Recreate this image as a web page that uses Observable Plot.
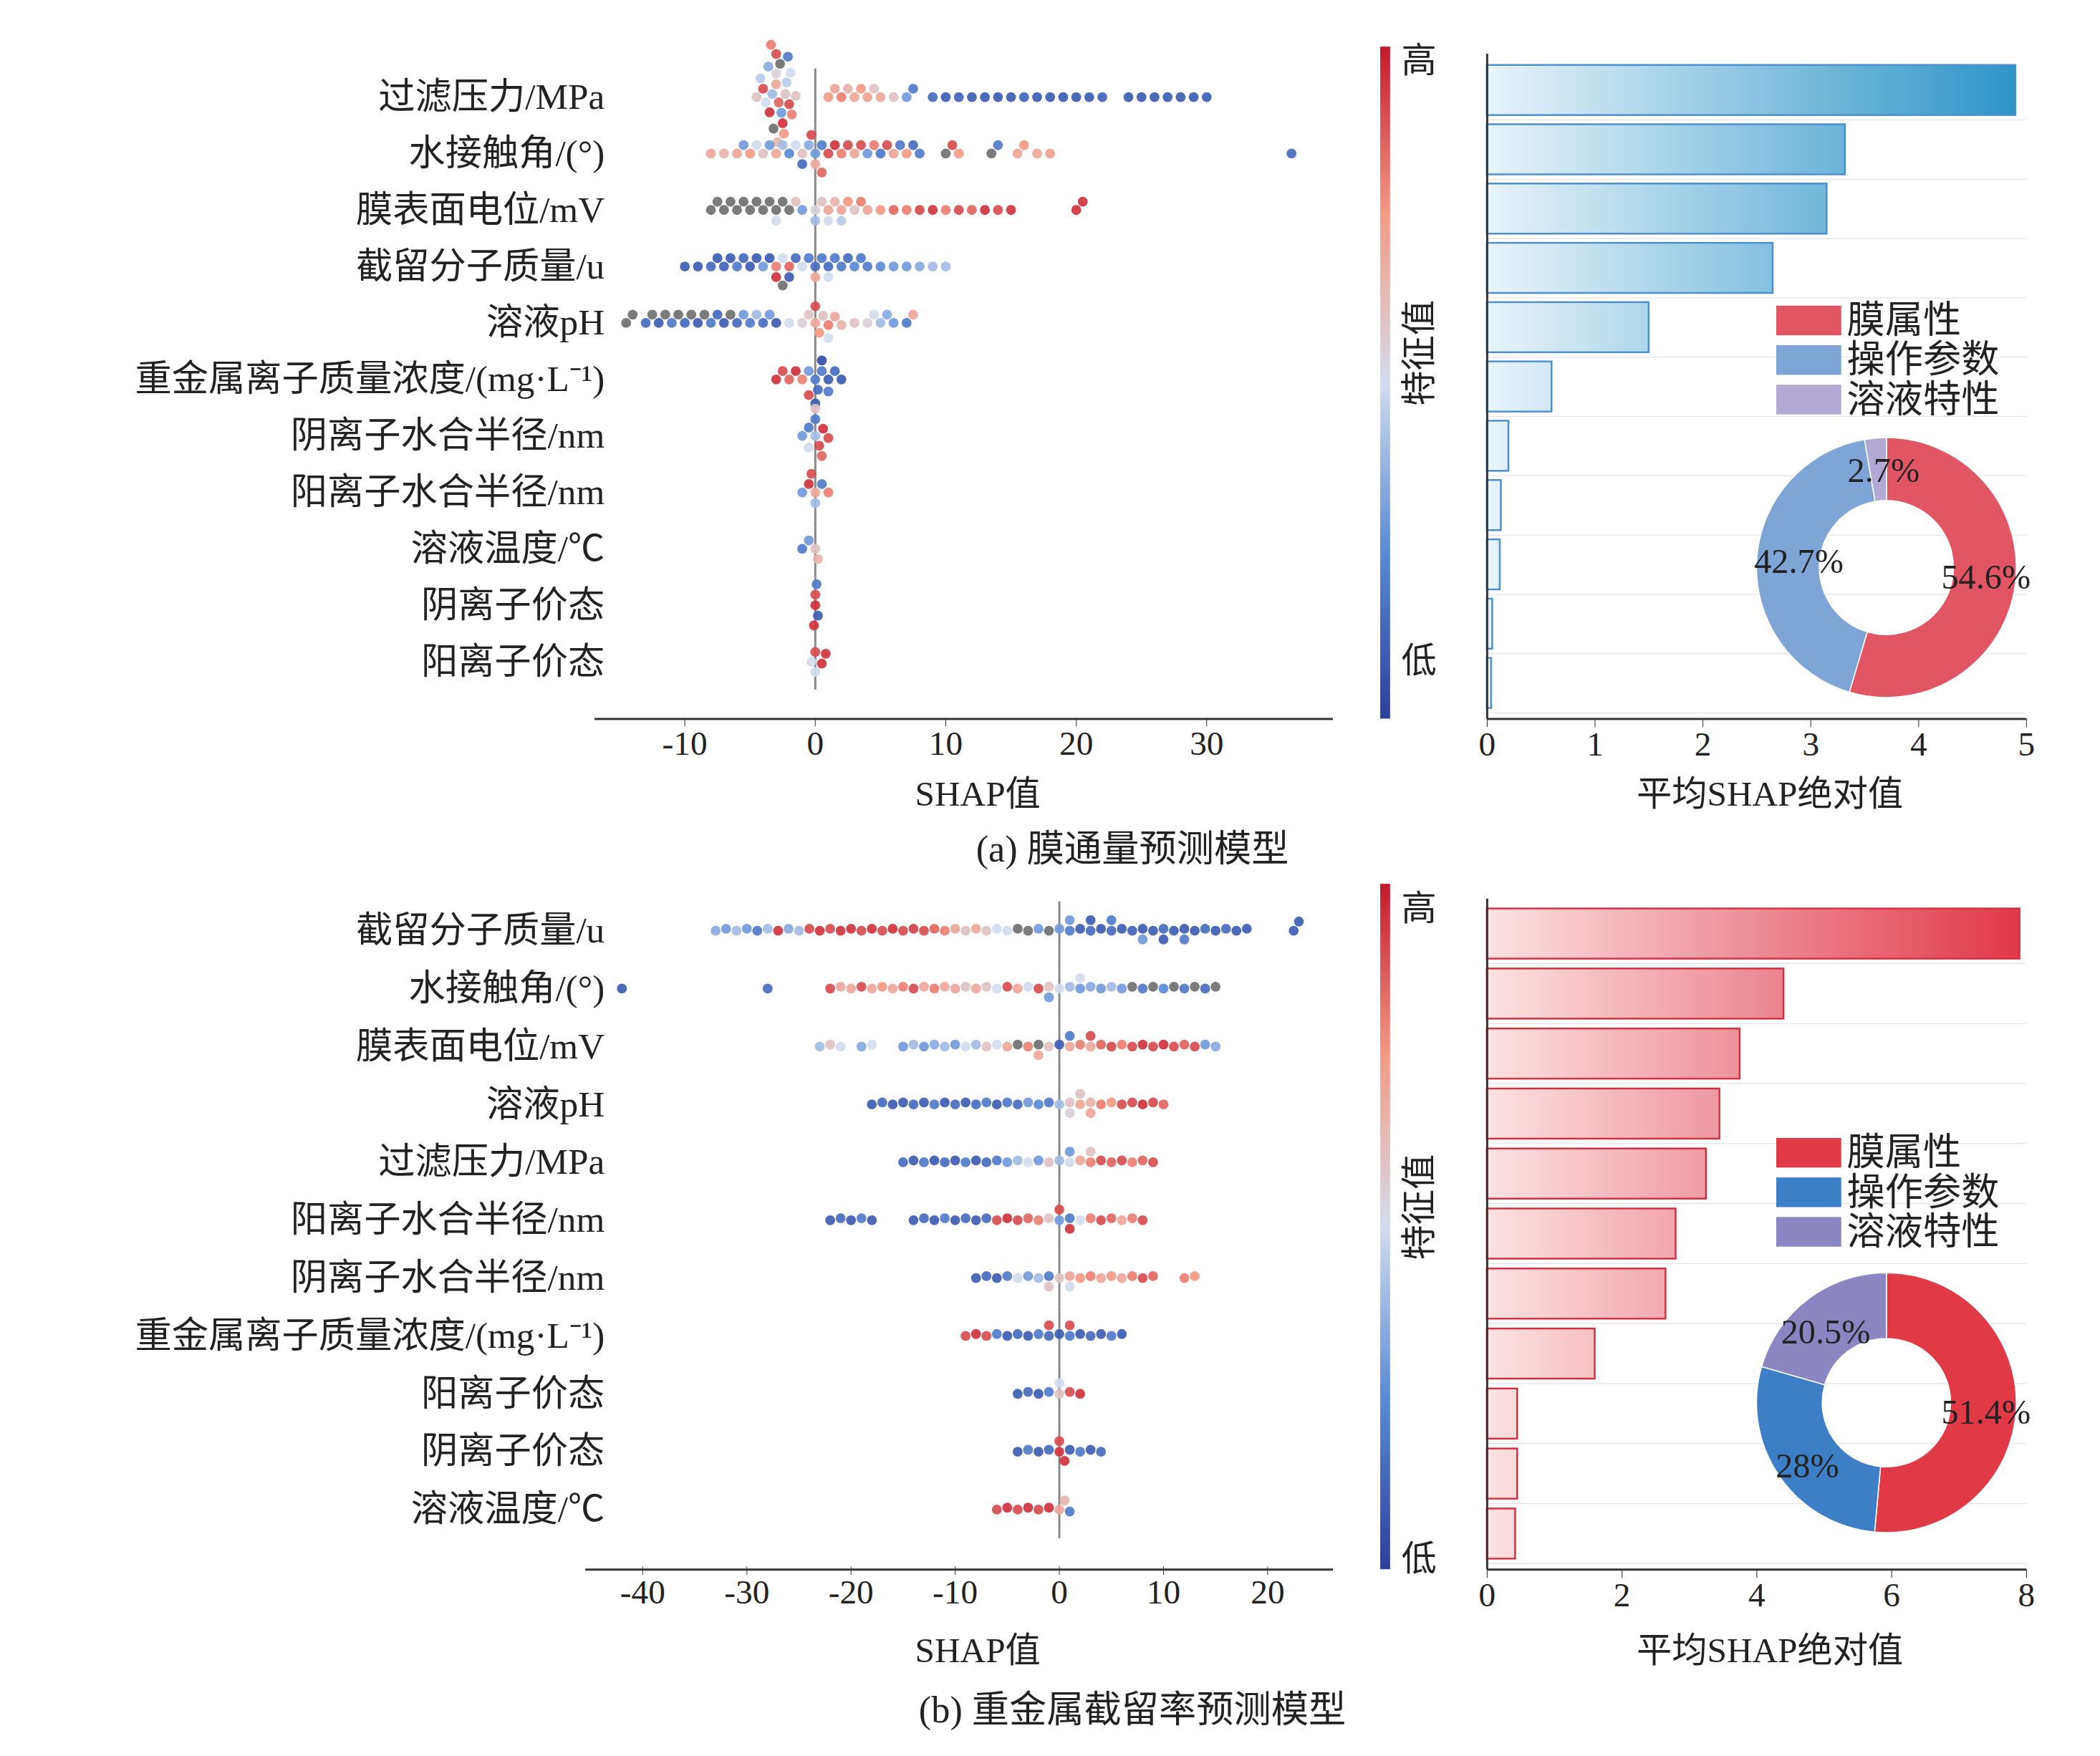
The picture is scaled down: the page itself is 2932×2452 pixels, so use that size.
<!DOCTYPE html>
<html><head><meta charset="utf-8">
<script src="https://cdn.jsdelivr.net/npm/d3@7"></script>
<script src="https://cdn.jsdelivr.net/npm/@observablehq/plot@0.6"></script>
<style>
body{margin:0;background:#fff;overflow:hidden;}
#root{position:relative;width:2932px;height:2452px;font-family:"Liberation Serif","Noto Sans CJK SC",serif;color:#222;transform:scale(0.9857);transform-origin:0 0;}
.abs{position:absolute;}
.t{position:absolute;white-space:nowrap;transform:translate(-50%,-50%);line-height:1;}
</style></head><body><div id="root"></div>
<script>
const featA=["过滤压力/MPa","水接触角/(°)","膜表面电位/mV","截留分子质量/u","溶液pH","重金属离子质量浓度/(mg·L⁻¹)","阴离子水合半径/nm","阳离子水合半径/nm","溶液温度/℃","阴离子价态","阳离子价态"];
const featB=["截留分子质量/u","水接触角/(°)","膜表面电位/mV","溶液pH","过滤压力/MPa","阳离子水合半径/nm","阴离子水合半径/nm","重金属离子质量浓度/(mg·L⁻¹)","阳离子价态","阴离子价态","溶液温度/℃"];
// "shap featureValue" (g = missing, grey)
const swarmA=[
"-4.5 .6,-4 .9,-3.8 .5,-3.5 .95,-3.3 .4,-3 .7,-3 .55,-2.8 .85,-2.6 .3,-2.5 .95,-2.3 .6,-2.2 .45,-2 .9,-1.8 .8,-1.5 .6,-3.2 g,-2.7 g,-3.6 .35,-2.4 .75,-1.9 .5,-4.2 .45,-3 .9,-2.1 .2,-2.9 .65,-3.4 .8,1 .75,1.5 .7,2 .8,2.5 .65,3 .7,3.5 .75,4 .72,4.5 .6,5 .7,6 .6,7 .3,7.5 .2,9 .15,10 .1,11 .12,12 .1,13 .1,14 .1,15 .1,16 .12,17 .1,18 .1,19 .1,20 .1,21 .1,22 .12,24 .1,25 .1,26 .1,27 .1,28 .1,29 .1,30 .1",
"-8 .7,-7 .65,-6 .7,-5.5 .3,-5 .75,-4.5 .5,-4 .6,-3.5 .3,-3 .7,-2.5 .4,-2 .25,-1.5 .5,-1 .6,-0.5 .35,0 .3,0 .7,.5 .2,1 .9,1.5 .95,2 .8,2.5 .9,3 .7,3.5 .9,4 .3,4.5 .8,5 .2,5.5 .9,6 .7,6.5 .2,7 .75,7.5 .15,8 .2,10 g,10.5 .9,11 .75,13.5 g,14 .2,15.5 .7,16 .75,17 .7,18 .72,36.5 .15,-1 .15,0.5 .85,-0.3 .9",
"-8 g,-7.5 g,-7 g,-6.5 g,-6 g,-5.5 g,-5 g,-4.5 g,-4 g,-3.5 g,-3 g,-2.5 g,-3 .5,-2 g,-1.5 .6,-1 .3,0 .55,.5 .6,1 .7,1.5 .65,2 .7,2.5 .75,3 .6,3.5 .8,4 .7,5 .75,6 .85,7 .8,8 .9,9 .95,10 .8,11 .9,12 .85,13 .95,14 .9,15 .95,20 .95,20.5 .95,0 .4,1 .5,2 .45",
"-10 .1,-9 .1,-8 .15,-7.5 .1,-7 .12,-6.5 .1,-6 .2,-5.5 .15,-5 .1,-4.5 .1,-4 .3,-3.5 .1,-3 .8,-3 .95,-2.5 .5,-2.5 g,-2 .85,-2 .1,-1.5 .15,-1 .5,-0.5 .2,0 .15,.5 .2,1 .15,1.5 .2,2 .2,2.5 .15,3 .25,3.5 .2,4 .2,5 .25,6 .3,7 .3,8 .35,9 .4,10 .4,0 .7,1 .5",
"-14.5 g,-14 g,-13 .15,-12.5 g,-12 .1,-11.5 g,-11 .2,-10.5 g,-10 .15,-9.5 g,-9 .1,-8.5 g,-8 .2,-7.5 .15,-7 .1,-6.5 g,-6 .15,-5.5 .3,-5 .2,-4.5 .4,-4 .15,-3.5 .3,-3 .1,-2 .5,-1 .55,-0.5 .6,0 .7,.3 .75,.6 .6,1 .8,1.5 .7,2 .65,3 .6,4 .55,4.5 .5,5 .4,5.5 .35,6 .3,7 .2,7.5 .7,0 .9,1 .5",
"-3 .95,-2.5 .9,-2 .85,-1.5 .95,-1 .8,-0.5 .3,0 .2,.2 .15,.5 .2,1 .1,1.5 .15,2 .1,-0.5 .9,.5 .05,1 .2,0 .1",
"-1 .3,-0.5 .2,0 .4,0.3 .9,0.6 .95,1 .9,-0.5 .5,0 .2,0.5 .85,0 .6",
"-1 .3,-0.5 .95,0 .7,0.5 .2,1 .8,0 .4,-0.3 .9",
"-1 .2,-0.5 .3,0 .6,0.2 .65",
"0 .95,0 .9,0.2 .1,-0.1 .95,0.1 .2",
"-0.3 .5,0 .9,0.5 .95,0.8 .95,0 .5"];
const swarmB=[
"-33 .35,-32 .3,-31 .4,-30 .3,-29 .2,-28 .4,-27 .95,-26 .35,-25 .4,-24 .9,-23 .95,-22 .9,-21 .95,-20 .95,-19 .9,-18 .95,-17 .9,-16 .95,-15 .9,-14 .92,-13 .9,-12 .85,-11 .8,-10 .7,-9 .6,-8 .7,-7 .6,-6 .5,-5 .5,-4 g,-3 g,-2 .3,-1 g,0 .3,1 .2,2 .1,3 .15,4 .1,5 .15,6 .1,7 .12,8 .1,9 .1,10 .15,11 .1,12 .1,13 .1,14 .15,15 .1,16 .15,17 .1,18 .1,22.5 .1,23 .1,1 .3,5 .2,8 .3,10 .1,12 .2,3 .1",
"-42 .1,-28 .15,-22 .9,-21 .7,-20 .7,-19 .9,-18 .7,-17 .75,-16 .7,-15 .8,-14 .9,-13 .7,-12 .8,-11 .7,-10 .7,-9 .6,-8 .7,-7 .6,-6 .5,-5 .9,-4 .7,-3 .5,-2 .9,-1 .6,0 .5,1 .4,2 .3,3 .35,4 .3,5 .4,6 .3,7 g,8 .2,9 g,10 .25,11 g,12 .2,13 g,14 .15,15 g,-1 .3,2 .5",
"-23 .4,-22 .6,-21 .5,-19 .35,-18 .5,-15 .3,-14 .4,-13 .3,-12 .35,-11 .4,-10 .3,-9 .5,-8 .4,-7 .6,-6 .5,-5 .7,-4 g,-3 .8,-2 g,-1 .6,0 .1,1 .7,2 .8,3 .7,4 .85,5 .9,6 .8,7 .9,8 .95,9 .9,10 .95,11 .9,12 .85,13 .9,14 .3,15 .35,-2 .7,1 .2,3 .9",
"-18 .1,-17 .15,-16 .1,-15 .1,-14 .15,-13 .1,-12 .2,-11 .1,-10 .15,-9 .1,-8 .15,-7 .2,-6 .1,-5 .2,-4 .15,-3 .3,-2 .25,-1 .2,0 .4,1 .6,2 .7,3 .65,4 .8,5 .75,6 .9,7 .9,8 .95,9 .9,10 .85,1 .55,2 .6,3 .7",
"-15 .15,-14 .1,-13 .2,-12 .1,-11 .15,-10 .1,-9 .2,-8 .1,-7 .15,-6 .2,-5 .3,-4 .4,-3 .5,-2 .3,-1 .6,0 .4,1 .5,2 .7,3 .8,4 .9,5 .85,6 .9,7 .8,8 .85,9 .9,1 .3,3 .6",
"-22 .1,-21 .15,-20 .1,-19 .2,-18 .1,-14 .1,-13 .15,-12 .1,-11 .2,-10 .1,-9 .15,-8 .1,-7 .15,-6 .9,-5 .95,-4 .9,-3 .85,-2 .8,-1 .6,0 .3,1 .2,2 .5,3 .8,4 .9,5 .85,6 .7,7 .8,8 .9,0 .9,1 .95",
"-8 .1,-7 .15,-6 .1,-5 .2,-4 .5,-3 .3,-2 .4,-1 .2,0 .6,1 .7,2 .75,3 .8,4 .7,5 .75,6 .7,7 .8,8 .9,9 .85,12 .8,13 .75,1 .5,-1 .6",
"-9 .9,-8 .95,-7 .9,-6 .2,-5 .1,-4 .15,-3 .1,-2 .2,-1 .15,0 .1,1 .2,2 .1,3 .15,4 .1,5 .2,6 .1,-1 .9,1 .9",
"-4 .1,-3 .15,-2 .1,-1 .2,0 .6,0 .5,1 .9,2 .95",
"-4 .1,-3 .2,-2 .1,-1 .15,0 .95,0 .9,0.5 .95,1 .1,2 .2,3 .1,4 .15",
"-6 .9,-5 .95,-4 .9,-3 .95,-2 .9,-1 .95,0 .7,0.5 .65,1 .2"];
const meanA=[4.9,3.32,3.15,2.65,1.5,0.6,0.2,0.13,0.12,0.05,0.04];
const meanB=[7.9,4.4,3.75,3.45,3.25,2.8,2.65,1.6,0.45,0.45,0.42];
const groups=["膜属性","操作参数","溶液特性"];
const shareA=[54.6,42.7,2.7], shareB=[51.4,28,20.5];
const labelsA=["54.6%","42.7%","2.7%"], labelsB=["51.4%","28%","20.5%"];
const ticksA=[-10,0,10,20,30], ticksB=[-40,-30,-20,-10,0,10,20];
const barTicksA=[0,1,2,3,4,5], barTicksB=[0,2,4,6,8];

const root=document.getElementById("root");
const FONT='"Liberation Serif","Noto Sans CJK SC",serif';
const fmt=d=>String(d);
const cmap=d3.scaleLinear().domain([0,.25,.5,.75,1]).range(["#2c3f9c","#5a8ad6","#d3dcec","#f49a85","#c4192b"]);
function parse(rows,feats){const out=[];rows.forEach((s,i)=>s.split(",").forEach(t=>{const [x,v]=t.trim().split(/\s+/);out.push({f:feats[i],x:+x,v:v==="g"?null:+v});}));return out;}
function place(el,left,top){el.style.position="absolute";el.style.left=left+"px";el.style.top=top+"px";root.appendChild(el);}
function text(str,x,y,size,rot){const d=document.createElement("div");d.className="t";d.textContent=str;d.style.left=x+"px";d.style.top=y+"px";d.style.fontSize=size+"px";if(rot)d.style.transform="translate(-50%,-50%) rotate(-90deg)";root.appendChild(d);}
function line(x,y,w,h,c){const d=document.createElement("div");d.className="abs";Object.assign(d.style,{left:x+"px",top:y+"px",width:w+"px",height:h+"px",background:c||"#333"});root.appendChild(d);}

function swarm(rows,feats,domain,ticks,top,mt,mb){
  const data=parse(rows,feats);
  const p=Plot.plot({width:1908,height:1200,marginLeft:842,marginRight:20,marginTop:mt,marginBottom:mb,
    style:{fontFamily:FONT,background:"transparent"},
    x:{domain,label:null},fy:{domain:feats,padding:0,label:null},
    marks:[
      Plot.ruleX([0],{stroke:"#888",strokeWidth:3}),
      Plot.dot(data,Plot.dodgeY("middle",{x:"x",fy:"f",r:7,padding:0,fill:d=>d.v==null?"#707070":cmap(d.v),fillOpacity:0.92})),
      Plot.axisFy({anchor:"left",tickSize:0,tickPadding:-14,fontSize:52,label:null}),
      Plot.axisX({ticks,tickFormat:fmt,tickSize:12,dy:40,fontSize:48,tickPadding:6,label:null,stroke:"#333"})
    ]});
  place(p,0,top);
}
swarm(swarmA,featA,[-16.9,39.7],ticksA,0,96,222);
swarm(swarmB,featB,[-44.6,26.3],ticksB,1230,43,247);
line(842,1017,1046,3); line(829,2222,1059,3);
text("SHAP值",1385,1124,50); text("SHAP值",1385,2338,50);

function bars(vals,dom,ticks,top,mt,id,c0,c1,stroke,share,labels,cols,cy,rIn,labPos){
  const ns="http://www.w3.org/2000/svg";
  const defs=(i,s,v,dim,ctx)=>{const g=ctx.document.createElementNS(ns,"defs");
    g.innerHTML=`<linearGradient id="${id}" gradientUnits="userSpaceOnUse" x1="${dim.marginLeft}" x2="${dim.width-dim.marginRight}" y1="0" y2="0"><stop offset="0" stop-color="${c0}"/><stop offset="1" stop-color="${c1}"/></linearGradient>`;return g;};
  const donut=(i,s,v,dim,ctx)=>{const g=ctx.document.createElementNS(ns,"g");
    const cx=2672-2000;const arcs=d3.pie().sort(null)(share);const arc=d3.arc().innerRadius(rIn).outerRadius(184);
    arcs.forEach((a,k)=>{const p=ctx.document.createElementNS(ns,"path");p.setAttribute("d",arc(a));p.setAttribute("fill",cols[k]);p.setAttribute("stroke","#fff");p.setAttribute("stroke-width","1.5");p.setAttribute("transform",`translate(${cx},${cy-top})`);g.appendChild(p);});
    labels.forEach((l,k)=>{const t=ctx.document.createElementNS(ns,"text");t.textContent=l;t.setAttribute("x",labPos[k][0]-2000);t.setAttribute("y",labPos[k][1]-top);t.setAttribute("text-anchor","middle");t.setAttribute("dominant-baseline","central");t.setAttribute("font-size","49");t.setAttribute("fill","#222");g.appendChild(t);});
    return g;};
  const p=Plot.plot({width:932,height:1200,marginLeft:106,marginRight:62,marginTop:mt,marginBottom:1200-(top===0?1018:2223-top),
    style:{fontFamily:FONT,background:"transparent"},
    x:{domain:dom,label:null},y:{domain:d3.range(vals.length),padding:0.16,axis:null},
    marks:[defs,
      Plot.gridY(d3.range(vals.length),{stroke:"#ddd",strokeOpacity:1,dy:42}),
      Plot.barX(vals,{x:d=>d,y:(d,i)=>i,fill:`url(#${id})`,stroke,strokeWidth:2.5}),
      Plot.ruleX([0],{stroke:"#333",strokeWidth:3}),
      Plot.axisX({ticks,tickFormat:fmt,tickSize:12,fontSize:48,tickPadding:6,label:null}),
      donut]});
  place(p,2000,top);
  line(2106,(top===0?1017:2222),764,3);
}
bars(meanA,[0,5],barTicksA,0,76,"gA","#e8f4fb","#2a93c6","#4d8fcc",shareA,labelsA,["#e25563","#7ea5d6","#b2a9d4"],804,95,[[2813,817],[2548,795],[2668,666]]);
bars(meanB,[0,8],barTicksB,1230,43,"gB","#fbe2e3","#e03646","#d03040",shareB,labelsB,["#e03a47","#3d7fc6","#8b86c2"],1987,91,[[2813,2000],[2560,2076],[2586,1886]]);
text("平均SHAP绝对值",2507,1124,50); text("平均SHAP绝对值",2507,2338,50);

function legend(cols,y0){groups.forEach((g,k)=>{const r=document.createElement("div");r.className="abs";Object.assign(r.style,{left:"2516px",top:(y0+k*56)+"px",width:"92px",height:"42px",background:cols[k]});root.appendChild(r);
  const t=document.createElement("div");t.className="abs";t.textContent=g;Object.assign(t.style,{left:"2616px",top:(y0+k*56-11)+"px",fontSize:"54px",lineHeight:"64px"});root.appendChild(t);});}
legend(["#e25563","#7ea5d6","#b2a9d4"],433);
legend(["#e03a47","#3d7fc6","#8b86c2"],1612);

const cb="linear-gradient(to bottom,#c4192b,#f49a85,#d3dcec,#5a8ad6,#2c3f9c)";
[[66,952],[1252,971]].forEach(([y,h])=>{const d=document.createElement("div");d.className="abs";Object.assign(d.style,{left:"1955px",top:y+"px",width:"14px",height:h+"px",background:cb});root.appendChild(d);});
text("高",2010,85,50); text("低",2010,936,50); text("特征值",2010,500,50,true);
text("高",2010,1287,50); text("低",2010,2208,50); text("特征值",2010,1710,50,true);
text("(a) 膜通量预测模型",1604,1203,53); text("(b) 重金属截留率预测模型",1604,2422,53);
</script></body></html>
